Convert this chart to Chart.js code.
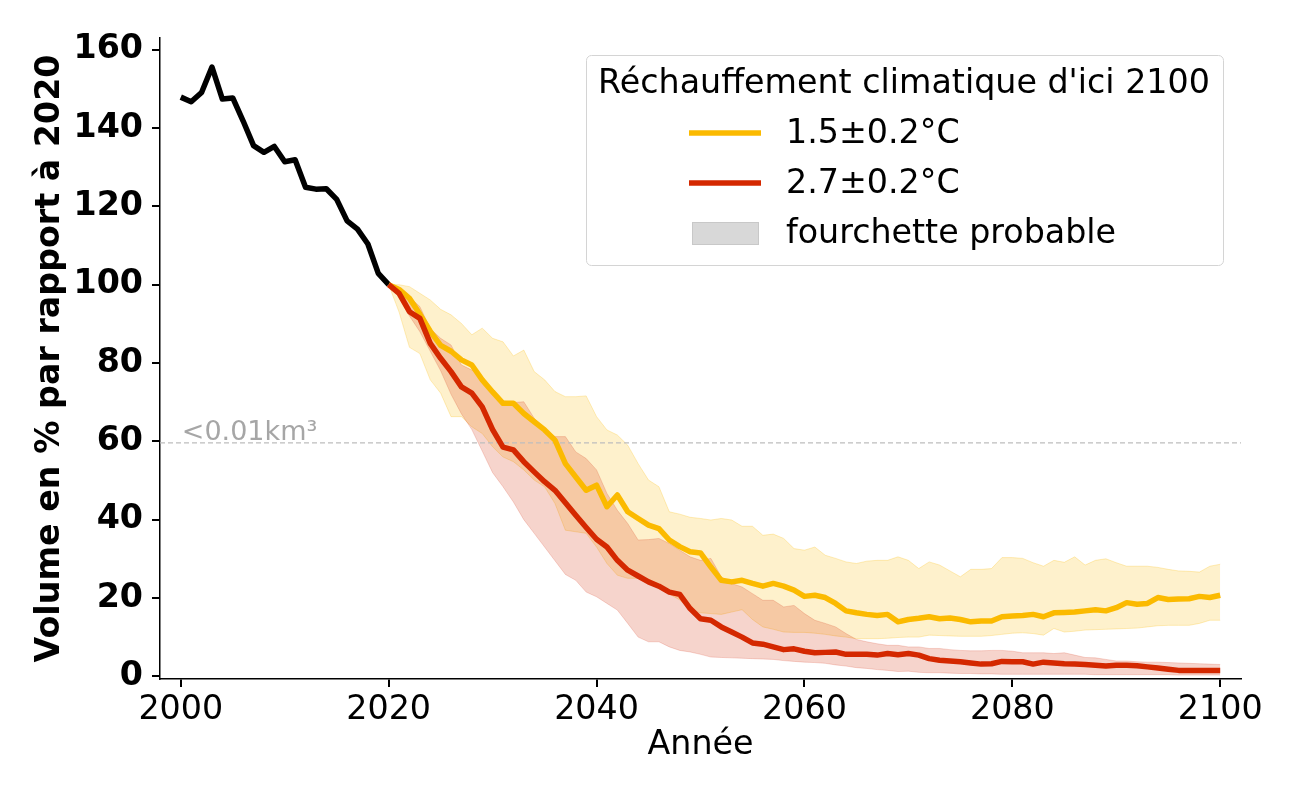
<!DOCTYPE html>
<html>
<head>
<meta charset="utf-8">
<script src="https://cdn.jsdelivr.net/npm/chart.js@4.4.1/dist/chart.umd.min.js"></script>
<style>
  html, body { margin:0; padding:0; background:#fff; }
  #wrap { width:1300px; height:800px; }
</style>
</head>
<body>
<div id="wrap"><canvas id="c" width="1300" height="800"></canvas></div>
<script>
/* ---------- data ---------- */
const histStart = 2000;
const histValues = [
  147.9, 146.7, 149.1, 155.6, 147.4, 147.7, 141.8, 135.5, 133.8, 135.3,
  131.4, 131.9, 124.9, 124.4, 124.5, 121.8, 116.3, 114.2, 110.4, 102.9,
  100
];

const projStart = 2020;
// 1.5±0.2°C  (median, upper, lower)
const y15 = [
  100, 98.8, 96.5, 92.5, 88.1, 84.5, 83, 80.8, 79.5, 75.7,
  72.6, 69.7, 69.7, 67.1, 65, 62.9, 60.3, 54.3, 50.9, 47.5,
  48.8, 43.3, 46.3, 42, 40.3, 38.6, 37.7, 34.8, 33.1, 31.8,
  31.5, 27.9, 24.5, 24.1, 24.5, 23.7, 23, 23.7, 23, 22,
  20.4, 20.7, 20.1, 18.6, 16.7, 16.2, 15.8, 15.5, 15.8, 13.9,
  14.5, 14.8, 15.2, 14.7, 14.9, 14.5, 13.9, 14.1, 14.1, 15.2,
  15.4, 15.5, 15.8, 15.2, 16.2, 16.3, 16.4, 16.7, 17, 16.7,
  17.5, 18.8, 18.4, 18.6, 20.1, 19.6, 19.7, 19.8, 20.4, 20.1,
  20.7
];
const y15hi = [
  100, 100, 99.5, 97.8, 96.1, 93.7, 92.3, 90.1, 87.2, 88.9,
  86.3, 85.4, 81.8, 83.3, 77.8, 75.7, 72.7, 71.4, 71.4, 71.6,
  66.3, 62.9, 61.6, 59, 54.3, 50.1, 48.4, 42, 41.4, 40.6,
  40.3, 39.9, 40.3, 39.9, 38.3, 38.3, 36, 36.3, 35.2, 32.6,
  32.2, 33, 30.9, 30.1, 29.2, 28.8, 29.4, 29.6, 29.6, 30.5,
  29.6, 27.5, 29.2, 28.4, 26.9, 25.4, 27.3, 27.3, 27.5, 30.3,
  30.3, 30.1, 29, 28.1, 29.6, 29.1, 30.5, 28.4, 29.6, 30,
  29, 28.1, 28.1, 28.1, 27.8, 27.3, 26.9, 26.8, 26.6, 28.1,
  28.6
];
const y15lo = [
  100, 93, 84, 82.4, 75.7, 72.3, 66.3, 66.3, 63.7, 62,
  58.6, 56, 54.8, 52.7, 50.1, 48.4, 44.1, 37.3, 36.9, 36.5,
  33, 28.8, 25.8, 25, 25, 24.5, 23.5, 21, 19.5, 16.9,
  16.2, 16, 15.8, 16.4, 17, 14.5, 12.6, 12, 11.3, 11.2,
  11.2, 11, 10.7, 10.3, 10, 9.6, 9.6, 9.6, 9.7, 9.9,
  10, 10, 10.5, 10.4, 10.3, 10.2, 10.2, 10.2, 10.4, 10.7,
  11, 11.1, 10.9, 10.5, 12.2, 11.3, 11.5, 11.8, 11.9, 12,
  12.1, 12.2, 12.3, 12.6, 12.9, 13, 13, 13, 13.5, 14.3,
  14.3
];
// 2.7±0.2°C  (median, upper, lower)
const y27 = [
  100, 97.8, 93.1, 91.4, 85, 81.2, 77.8, 73.9, 72.3, 68.8,
  63, 58.5, 57.8, 54.8, 52.2, 49.7, 47.5, 44.3, 41.1, 38,
  35, 33, 29.6, 27.1, 25.6, 24.1, 23, 21.5, 20.9, 17.3,
  14.7, 14.3, 12.6, 11.3, 10, 8.5, 8.2, 7.5, 6.8, 7,
  6.4, 6, 6.1, 6.2, 5.6, 5.6, 5.6, 5.4, 5.8, 5.5,
  5.8, 5.4, 4.5, 4.1, 3.9, 3.7, 3.4, 3.1, 3.2, 3.8,
  3.7, 3.7, 3.1, 3.6, 3.4, 3.2, 3.1, 3, 2.8, 2.6,
  2.8, 2.8, 2.7, 2.4, 2.1, 1.8, 1.5, 1.5, 1.5, 1.5,
  1.5
];
const y27hi = [
  100, 99, 96.9, 94.4, 88.8, 86.3, 84.6, 79.5, 78.2, 76.5,
  71.8, 70.3, 69.9, 70.1, 65.9, 63.3, 61.2, 61.2, 57.3, 55.6,
  52.7, 46.7, 42.4, 39, 34.8, 34.9, 35.2, 33.9, 32.2, 30.5,
  29.6, 30.1, 25.4, 23.7, 22.8, 21.1, 19.4, 19.4, 17.7, 18.1,
  16, 14.3, 13.5, 12.6, 10.9, 9.4, 8.8, 8.3, 7.9, 7.9,
  7.5, 7.5, 7.1, 7.1, 6.8, 6.6, 6.5, 6.5, 6.6, 6.6,
  6.4, 6, 6, 6, 5.8, 6, 5.4, 4.8, 4.7, 4.3,
  3.9, 3.9, 3.7, 3.6, 3.6, 3.5, 3.4, 3.3, 3.2, 3.1,
  3
];
const y27lo = [
  100, 97, 92, 88, 83, 78, 72, 67, 63, 57.5,
  52, 48.4, 44.5, 40, 36.5, 33, 29.5, 26, 24.5, 21.5,
  20.3, 18.6, 16.9, 13.5, 10, 8.8, 8.8, 7.5, 6.6, 6.2,
  5.6, 4.9, 4.8, 4.7, 4.6, 4.5, 4.4, 4.3, 4, 3.8,
  3.6, 3.5, 3.3, 2.9, 2.6, 2.2, 2, 1.7, 1.5, 1.2,
  1.3, 1, 0.9, 0.9, 0.8, 0.7, 0.7, 0.6, 0.6, 0.5,
  0.5, 0.5, 0.5, 0.5, 0.5, 0.5, 0.5, 0.5, 0.4, 0.4,
  0.4, 0.4, 0.4, 0.4, 0.4, 0.4, 0.3, 0.3, 0.3, 0.3,
  0.3
];

const thresholdValue = 59.6;
const thresholdLabel = '<0.01km³';

const xTicks = [2000, 2020, 2040, 2060, 2080, 2100];
const yTicks = [0, 20, 40, 60, 80, 100, 120, 140, 160];

const legendTitle  = "Réchauffement climatique d'ici 2100";
const seriesLabels = ['1.5±0.2°C', '2.7±0.2°C'];
const bandLabel    = 'fourchette probable';
const xTitle = 'Année';
const yTitle = 'Volume en % par rapport à 2020';

/* ---------- colours ---------- */
const YELLOW = '#fbba00';
const RED    = '#d42800';
const yellowFill = 'rgba(251,186,0,0.2)';
const redFill    = 'rgba(212,40,0,0.2)';
const FONT = '"DejaVu Sans", sans-serif';
const FS = 33.3;                         // 24pt @ 100dpi

/* ---------- helpers ---------- */
const pts = (start, arr) => arr.map((v, i) => ({ x: start + i, y: v }));

/* ---------- threshold label + legend (drawn on the canvas) ---------- */
const overlay = {
  id: 'overlay',
  afterDatasetsDraw(chart) {
    const { ctx, scales: { x, y } } = chart;
    ctx.save();
    ctx.font = '27px ' + FONT;
    ctx.fillStyle = '#a6a6a6';
    ctx.textAlign = 'left';
    ctx.textBaseline = 'alphabetic';
    ctx.fillText(thresholdLabel, x.getPixelForValue(2000) + 1, y.getPixelForValue(60) - 1);
    ctx.restore();
  },
  afterDraw(chart) {
    const ctx = chart.ctx;
    ctx.save();
    // box
    ctx.beginPath();
    ctx.roundRect(586.5, 55.5, 637, 210, 5);
    ctx.fillStyle = 'rgba(255,255,255,0.85)';
    ctx.fill();
    ctx.strokeStyle = '#d4d4d4';
    ctx.lineWidth = 1;
    ctx.stroke();

    ctx.fillStyle = '#000';
    ctx.font = FS + 'px ' + FONT;
    ctx.textBaseline = 'middle';
    ctx.textAlign = 'center';
    ctx.fillText(legendTitle, 904, 84);

    ctx.textAlign = 'left';
    const rows = [
      { type: 'line', color: YELLOW, label: seriesLabels[0], y: 133 },
      { type: 'line', color: RED,    label: seriesLabels[1], y: 183 },
      { type: 'box',  color: '#d8d8d8', label: bandLabel,    y: 233 }
    ];
    rows.forEach(r => {
      if (r.type === 'line') {
        ctx.strokeStyle = r.color;
        ctx.lineWidth = 5.5;
        ctx.beginPath();
        ctx.moveTo(689, r.y); ctx.lineTo(761, r.y);
        ctx.stroke();
      } else {
        ctx.fillStyle = r.color;
        ctx.fillRect(692, r.y - 11, 66, 22);
        ctx.strokeStyle = '#c8c8c8';
        ctx.lineWidth = 1;
        ctx.strokeRect(692.5, r.y - 10.5, 66, 22);
      }
      ctx.fillStyle = '#000';
      ctx.fillText(r.label, 786, r.y + 1);
    });
    ctx.restore();
  }
};

/* ---------- chart ---------- */
new Chart(document.getElementById('c'), {
  type: 'line',
  data: {
    datasets: [
      { label: 'red', data: pts(projStart, y27), borderColor: RED, borderWidth: 5.5, order: 0 },
      { label: 'yellow', data: pts(projStart, y15), borderColor: YELLOW, borderWidth: 5.5, order: 1 },
      { label: 'hist', data: pts(histStart, histValues), borderColor: '#000', borderWidth: 5.5, order: 2 },
      { label: 'seuil', data: [{ x: 1998, y: thresholdValue }, { x: 2102, y: thresholdValue }],
        borderColor: '#bdbdbd', borderWidth: 1.2, borderDash: [5, 3], order: 3 },
      { label: 'r_hi', data: pts(projStart, y27hi), borderColor: 'rgba(212,40,0,0.18)', borderWidth: 1,
        backgroundColor: redFill, fill: '+1', order: 4 },
      { label: 'r_lo', data: pts(projStart, y27lo), borderColor: 'rgba(212,40,0,0.18)', borderWidth: 1, order: 5 },
      { label: 'y_hi', data: pts(projStart, y15hi), borderColor: 'rgba(251,186,0,0.25)', borderWidth: 1,
        backgroundColor: yellowFill, fill: '+1', order: 6 },
      { label: 'y_lo', data: pts(projStart, y15lo), borderColor: 'rgba(251,186,0,0.25)', borderWidth: 1, order: 7 }
    ]
  },
  options: {
    responsive: false,
    animation: false,
    devicePixelRatio: 1,
    layout: { padding: { top: 38, right: 59, left: 0, bottom: 0 } },
    elements: { point: { radius: 0 }, line: { tension: 0, borderJoinStyle: 'round', borderCapStyle: 'butt' } },
    plugins: { legend: { display: false }, tooltip: { enabled: false } },
    scales: {
      x: {
        type: 'linear', min: 1998, max: 2102,
        afterBuildTicks: s => { s.ticks = xTicks.map(v => ({ value: v })); },
        afterFit: s => { s.height = 121; },
        grid: { drawOnChartArea: false, drawTicks: true, tickLength: 8, color: '#000', lineWidth: 2 },
        border: { display: true, color: '#000', width: 1.5 },
        ticks: { color: '#000', font: { family: FONT, size: FS }, padding: 3, maxRotation: 0,
                 callback: v => String(v) },
        title: { display: true, text: xTitle, color: '#000', font: { family: FONT, size: FS },
                 padding: { top: 0, bottom: 35 } }
      },
      y: {
        type: 'linear', min: -0.7, max: 163,
        afterBuildTicks: s => { s.ticks = yTicks.map(v => ({ value: v })); },
        afterFit: s => { s.width = 160; },
        grid: { drawOnChartArea: false, drawTicks: true, tickLength: 8, color: '#000', lineWidth: 2 },
        border: { display: true, color: '#000', width: 1.5 },
        ticks: { color: '#000', font: { family: FONT, size: FS, weight: 'bold' }, padding: 9,
                 callback: v => String(v) },
        title: { display: true, text: yTitle, color: '#000', font: { family: FONT, size: FS, weight: 'bold' },
                 padding: { top: 30, bottom: 0 } }
      }
    }
  },
  plugins: [overlay]
});
</script>
</body>
</html>
